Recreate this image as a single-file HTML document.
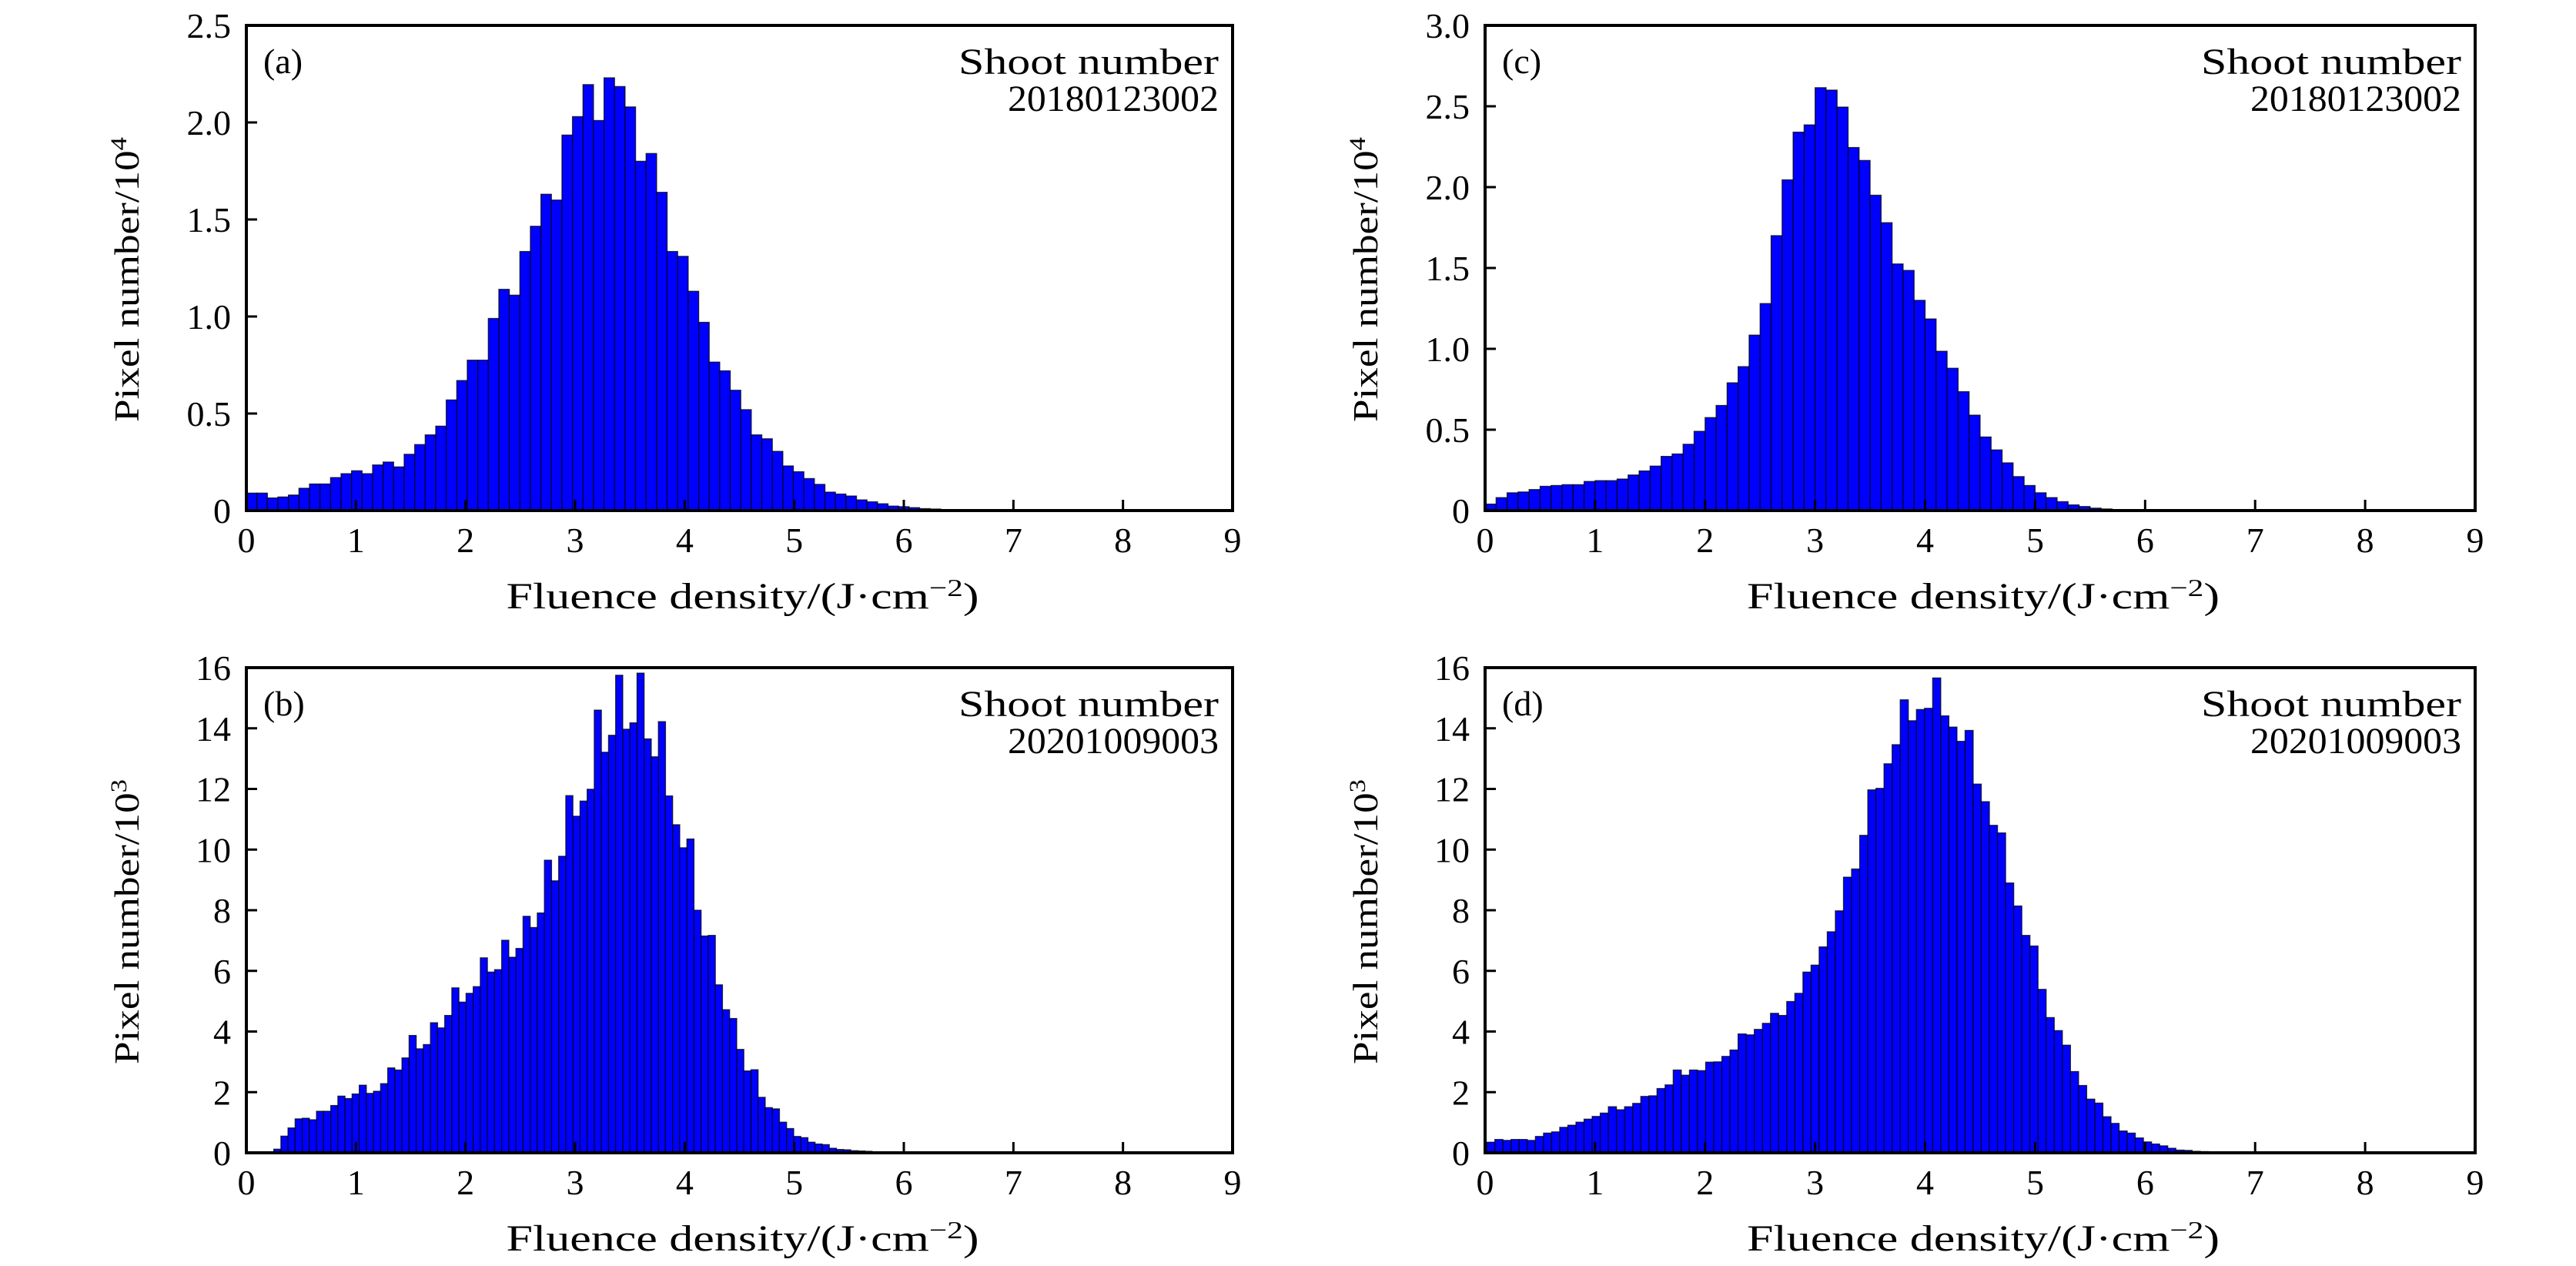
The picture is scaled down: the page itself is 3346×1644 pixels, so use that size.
<!DOCTYPE html>
<html><head><meta charset="utf-8">
<style>
html,body{margin:0;padding:0;background:#fff;}
svg{display:block;}
text{font-family:"Liberation Serif",serif;fill:#000;}
</style></head>
<body>
<svg id="fig" width="3346" height="1644" viewBox="0 0 3346 1644" xmlns="http://www.w3.org/2000/svg"></svg>
<script>
// ---- data ----
const valuesA = [0.09,0.09,0.065,0.07,0.08,0.115,0.137,0.137,0.17,0.19,0.205,0.19,0.235,0.25,0.225,0.29,0.34,0.39,0.435,0.57,0.67,0.775,0.775,0.99,1.14,1.11,1.335,1.465,1.63,1.6,1.935,2.03,2.195,2.01,2.23,2.185,2.08,1.8,1.84,1.64,1.335,1.31,1.13,0.97,0.765,0.72,0.62,0.52,0.39,0.37,0.305,0.23,0.2,0.165,0.135,0.095,0.085,0.075,0.055,0.045,0.035,0.023,0.02,0.015,0.01,0.008,0.005,0.003,0.002];
const valuesC = [0.04,0.08,0.11,0.115,0.13,0.15,0.155,0.16,0.16,0.18,0.185,0.185,0.195,0.22,0.245,0.275,0.335,0.35,0.41,0.49,0.575,0.65,0.79,0.89,1.085,1.28,1.7,2.045,2.34,2.385,2.615,2.6,2.495,2.245,2.165,1.95,1.78,1.525,1.485,1.3,1.185,0.985,0.88,0.735,0.59,0.455,0.375,0.295,0.21,0.155,0.11,0.08,0.055,0.035,0.025,0.015,0.01,0.006,0.004,0.002];
const valuesB = [0.12,0.55,0.82,1.12,1.14,1.09,1.37,1.37,1.56,1.87,1.79,1.94,2.23,1.96,2.03,2.28,2.8,2.73,3.13,3.87,3.43,3.57,4.29,4.12,4.53,5.44,4.97,5.26,5.48,6.43,5.96,6.04,7.01,6.45,6.74,7.8,7.43,7.91,9.65,8.97,9.78,11.78,11.1,11.6,11.99,14.6,13.21,13.77,15.75,13.97,14.18,15.82,13.65,13.06,14.22,11.77,10.82,10.06,10.35,8.0,7.15,7.17,5.54,4.72,4.43,3.41,2.7,2.74,1.83,1.49,1.45,1.01,0.8,0.54,0.5,0.35,0.29,0.27,0.15,0.11,0.1,0.07,0.06,0.05,0.01,0.03];
const valuesD = [0.35,0.44,0.41,0.44,0.44,0.41,0.54,0.65,0.69,0.84,0.91,1.01,1.11,1.2,1.31,1.52,1.42,1.52,1.63,1.86,1.88,2.12,2.24,2.73,2.56,2.73,2.71,2.99,3.0,3.18,3.39,3.92,3.89,4.07,4.27,4.6,4.53,4.99,5.26,5.96,6.19,6.79,7.29,7.98,9.09,9.36,10.47,11.97,12.02,12.83,13.46,14.94,14.25,14.62,14.66,15.66,14.41,14.04,13.57,13.93,12.16,11.58,10.8,10.55,8.9,8.14,7.17,6.82,5.39,4.46,4.03,3.55,2.68,2.22,1.77,1.64,1.19,0.97,0.72,0.65,0.49,0.36,0.29,0.23,0.15,0.09,0.08,0.05,0.04,0.02,0.01,0.01];
const binStartA = 0, binWidthA = 0.096;
const binStartC = 0, binWidthC = 0.1;
const binStartB = 0.25, binWidthB = 0.065;
const binStartD = 0.015, binWidthD = 0.0737;
const xTickLabels = ["0","1","2","3","4","5","6","7","8","9"];
const yTicksA = ["0","0.5","1.0","1.5","2.0","2.5"];
const yTicksC = ["0","0.5","1.0","1.5","2.0","2.5","3.0"];
const yTicksBD = ["0","2","4","6","8","10","12","14","16"];
const shotTop = "20180123002";
const shotBottom = "20201009003";

const NS = "http://www.w3.org/2000/svg";
const svg = document.getElementById('fig');
function mk(tag, attrs, parent){
  const e = document.createElementNS(NS, tag);
  for (const k in attrs) e.setAttribute(k, attrs[k]);
  (parent||svg).appendChild(e);
  return e;
}

const panels = [
  {id:'a', x0:320, y0:33, w:1281, h:630, vals:valuesA, bs:binStartA, bw:binWidthA, yt:yTicksA, ymax:2.5, ystep:0.5, exp:"4", shot:shotTop},
  {id:'c', x0:1929, y0:33, w:1286, h:630, vals:valuesC, bs:binStartC, bw:binWidthC, yt:yTicksC, ymax:3.0, ystep:0.5, exp:"4", shot:shotTop},
  {id:'b', x0:320, y0:867, w:1281, h:630, vals:valuesB, bs:binStartB, bw:binWidthB, yt:yTicksBD, ymax:16, ystep:2, exp:"3", shot:shotBottom},
  {id:'d', x0:1929, y0:867, w:1286, h:630, vals:valuesD, bs:binStartD, bw:binWidthD, yt:yTicksBD, ymax:16, ystep:2, exp:"3", shot:shotBottom}
];

panels.forEach(p => {
  const g = mk('g', {});
  
  
  const xs = v => p.x0 + v / 9 * p.w;
  const ys = v => p.y0 + p.h - v / p.ymax * p.h;

  const bars = mk('g', {}, g);
  
  
  p.vals.forEach((v, i) => {
    const xl = xs(p.bs + i * p.bw), xr = xs(p.bs + (i + 1) * p.bw);
    const yt = ys(v), yb = ys(0);
    const r = mk('rect', {x:xl, y:yt, width:xr - xl, height:Math.max(yb - yt, 0), fill:'#0000ff', stroke:'#000', 'stroke-width':1.3, 'stroke-opacity':0.75}, bars);
    
    
  });

  const fr = mk('rect', {x:p.x0, y:p.y0, width:p.w, height:p.h, fill:'none', stroke:'#000', 'stroke-width':4}, g);
  
  

  xTickLabels.forEach((lab, i) => {
    const x = xs(i);
    mk('line', {x1:x, x2:x, y1:p.y0 + p.h, y2:p.y0 + p.h - 14, stroke:'#000', 'stroke-width':3}, g);
    const t = mk('text', {x:x, y:p.y0 + p.h + 54, 'font-size':46, 'text-anchor':'middle'}, g);
    t.textContent = lab;
    
    
  });
  p.yt.forEach((lab, i) => {
    const y = ys(i * p.ystep);
    mk('line', {x1:p.x0, x2:p.x0 + 14, y1:y, y2:y, stroke:'#000', 'stroke-width':3}, g);
    const t = mk('text', {x:p.x0 - 20, y:y + 16, 'font-size':46, 'text-anchor':'end'}, g);
    t.textContent = lab;
    
    
  });

  const xt = mk('text', {x:p.x0 + p.w / 2 - 303, y:p.y0 + p.h + 127, 'font-size':48, textLength:614, lengthAdjust:'spacingAndGlyphs'}, g);
  xt.innerHTML = 'Fluence density/(J·cm<tspan dy="-16" font-size="32">−2</tspan><tspan dy="16">)</tspan>';
  
  

  const cx = p.x0 - 140, cy = p.y0 + p.h / 2 + 200;
  const yt = mk('text', {x:cx, y:cy, 'font-size':46, transform:'rotate(-90 ' + cx + ' ' + cy + ')', textLength:370, lengthAdjust:'spacingAndGlyphs'}, g);
  yt.innerHTML = 'Pixel number/10<tspan dy="-16" font-size="30">' + p.exp + '</tspan>';
  
  

  const pl = mk('text', {x:p.x0 + 22, y:p.y0 + 62, 'font-size':46}, g);
  pl.textContent = '(' + p.id + ')';
  
  

  const rx = p.x0 + p.w - 18;
  const s1 = mk('text', {x:rx - 338, y:p.y0 + 63, 'font-size':48, textLength:338, lengthAdjust:'spacingAndGlyphs'}, g);
  s1.textContent = 'Shoot number';
  
  
  const s2 = mk('text', {x:rx - 274, y:p.y0 + 111, 'font-size':48, textLength:274, lengthAdjust:'spacingAndGlyphs'}, g);
  s2.textContent = p.shot;
  
  
});
</script>
</body></html>
